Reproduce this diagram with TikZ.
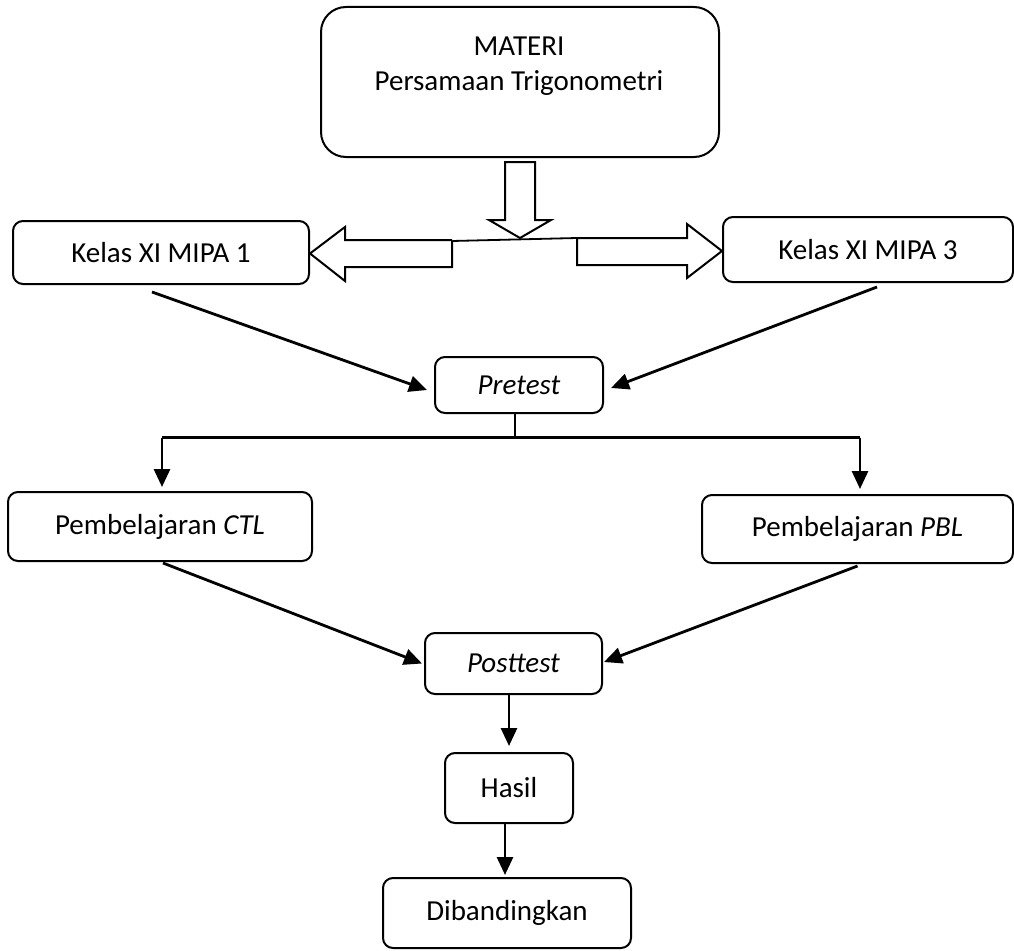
\documentclass[tikz,border=0pt]{standalone}
\usepackage{fontspec}
\setmainfont{Carlito}
\usetikzlibrary{arrows.meta,calc}
\begin{document}
\begin{tikzpicture}[x=1pt,y=-1pt,
  box/.style={draw, line width=2pt, rounded corners=10pt, inner sep=0pt, font=\fontsize{29}{35}\selectfont},
  arr/.style={line width=2.8pt, -{Triangle[length=18pt,width=16pt]}},
  plain/.style={line width=2.2pt},
  blockarrow/.style={draw, fill=white, line width=2pt, line join=miter}]
\useasboundingbox (0,0) rectangle (1014,950);
% top box
\node[box, rounded corners=25pt, minimum width=398pt, minimum height=150pt] (mat) at (520,82) {};
\node[font=\fontsize{29}{35}\selectfont, align=center, inner sep=0pt] (matlbl) at (519,66) {MATERI\\Persamaan Trigonometri};
% boxes
\node[box, minimum width=296pt, minimum height=63pt] (k1) at (161,252.5) {Kelas XI MIPA 1};
\node[box, minimum width=290pt, minimum height=65pt] (k3) at (868,249.5) {Kelas XI MIPA 3};
\node[box, minimum width=168pt, minimum height=56pt] (pre) at (519,385) {\itshape Pretest};
\node[box, minimum width=304pt, minimum height=69pt] (ctl) at (160,526.5) {Pembelajaran \textit{CTL}};
\node[box, minimum width=311pt, minimum height=68pt] (pbl) at (857.5,529) {Pembelajaran \textit{PBL}};
\node[box, minimum width=177pt, minimum height=61pt] (post) at (513.5,663.5) {\itshape Posttest};
\node[box, minimum width=128pt, minimum height=70pt] (hasil) at (509,788) {Hasil};
\node[box, minimum width=248pt, minimum height=70pt] (dib) at (507,913) {Dibandingkan};
% block arrows
\draw[blockarrow] (505,162) -- (535,162) -- (535,220) -- (551,220) -- (520,238) -- (489,220) -- (505,220) -- cycle;
\coordinate (jl) at (452,241);
\coordinate (jr) at (577,238);
\draw[line width=1.8pt] (jl) -- (jr);
\draw[blockarrow] (jl) -- (452,267) -- (345,267) -- (345,281) -- (310,253.5) -- (345,227) -- (345,240) -- (452,240);
\draw[blockarrow] (jr) -- (687,238) -- (687,224) -- (722,251) -- (687,278) -- (687,265) -- (577,265) -- cycle;
% arrows to pretest
\draw[arr] ($(k1.south)+(-9,7)$) -- ($(pre.west)+(-7,5)$);
\draw[arr] ($(k3.south)+(9,4)$) -- ($(pre.east)+(7,3)$);
% split
\coordinate (sl) at (162,437.5);
\coordinate (sr) at (860,437.5);
\coordinate (sm) at (515,437.5);
\draw[plain] ($(pre.south)+(-4,0)$) -- (sm);
\draw[plain] (sl) -- (sr);
\draw[arr] (sl) -- ($(ctl.north)+(2,-4)$);
\draw[arr] (sr) -- ($(pbl.north)+(2.5,-5)$);
% to posttest
\draw[arr] ($(ctl.south)+(3,1)$) -- ($(post.west)+(-2,0)$);
\draw[arr] ($(pbl.south)+(0,2)$) -- ($(post.east)+(1,-1.5)$);
\draw[arr] ($(post.south)+(-4.5,0)$) -- ($(hasil.north)+(0,-6)$);
\draw[arr] ($(hasil.south)+(-4,0)$) -- ($(dib.north)+(-2,-2)$);
\end{tikzpicture}
\end{document}
